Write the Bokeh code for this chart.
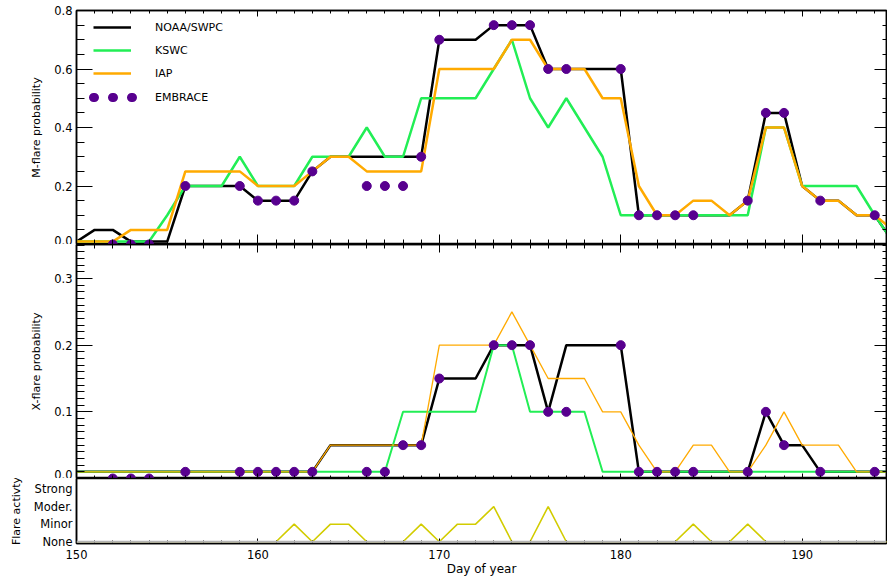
from bokeh.plotting import figure
from bokeh.models import (Range1d, LinearAxis, FixedTicker, Legend, LegendItem,
                          Span, PrintfTickFormatter)
from bokeh.layouts import column
from bokeh.embed import file_html
from bokeh.resources import INLINE

# ---------------- data ----------------
days = list(range(150, 196))

noaa_m = [0.01, 0.05, 0.05, 0.01, 0.01, 0.01, 0.2, 0.2, 0.2, 0.2,
          0.15, 0.15, 0.15, 0.25, 0.3, 0.3, 0.3, 0.3, 0.3, 0.3,
          0.7, 0.7, 0.7, 0.75, 0.75, 0.75, 0.6, 0.6, 0.6, 0.6,
          0.6, 0.1, 0.1, 0.1, 0.1, 0.1, 0.1, 0.15, 0.45, 0.45,
          0.2, 0.15, 0.15, 0.1, 0.1, 0.01]
kswc_m = [0.01, 0.01, 0.01, 0.01, 0.01, 0.1, 0.2, 0.2, 0.2, 0.3,
          0.2, 0.2, 0.2, 0.3, 0.3, 0.3, 0.4, 0.3, 0.3, 0.5,
          0.5, 0.5, 0.5, 0.6, 0.7, 0.5, 0.4, 0.5, 0.4, 0.3,
          0.1, 0.1, 0.1, 0.1, 0.1, 0.1, 0.1, 0.1, 0.4, 0.4,
          0.2, 0.2, 0.2, 0.2, 0.1, 0.01]
iap_m = [0.01, 0.01, 0.01, 0.05, 0.05, 0.05, 0.25, 0.25, 0.25, 0.25,
         0.2, 0.2, 0.2, 0.25, 0.3, 0.3, 0.25, 0.25, 0.25, 0.25,
         0.6, 0.6, 0.6, 0.6, 0.7, 0.7, 0.6, 0.6, 0.6, 0.5,
         0.5, 0.2, 0.1, 0.1, 0.15, 0.15, 0.1, 0.15, 0.4, 0.4,
         0.2, 0.15, 0.15, 0.1, 0.1, 0.05]

noaa_x = [0.01] * 14 + [0.05] * 6 + [0.15, 0.15, 0.15, 0.2, 0.2, 0.2, 0.1,
          0.2, 0.2, 0.2, 0.2] + [0.01] * 7 + [0.1, 0.05, 0.05] + [0.01] * 5
kswc_x = [0.01] * 18 + [0.1] * 5 + [0.2, 0.2] + [0.1] * 4 + [0.01] * 17
iap_x = [0.01] * 14 + [0.05] * 6 + [0.2, 0.2, 0.2, 0.2, 0.25, 0.2, 0.15, 0.15,
         0.15, 0.1, 0.1, 0.05, 0.01, 0.01, 0.05, 0.05, 0.01, 0.01, 0.05, 0.1,
         0.05, 0.05, 0.05, 0.01, 0.01, 0.01]

emb_days = [152, 153, 154, 156, 159, 160, 161, 162, 163, 166, 167, 168, 169, 170,
            173, 174, 175, 176, 177, 180, 181, 182, 183, 184, 187, 188, 189, 191, 194]
emb_m = [0, 0, 0, 0.2, 0.2, 0.15, 0.15, 0.15, 0.25, 0.2, 0.2, 0.2, 0.3, 0.7,
         0.75, 0.75, 0.75, 0.6, 0.6, 0.6, 0.1, 0.1, 0.1, 0.1, 0.15, 0.45, 0.45, 0.15, 0.1]
emb_x = [0, 0, 0, 0.01, 0.01, 0.01, 0.01, 0.01, 0.01, 0.01, 0.01, 0.05, 0.05, 0.15,
         0.2, 0.2, 0.2, 0.1, 0.1, 0.2, 0.01, 0.01, 0.01, 0.01, 0.01, 0.1, 0.05, 0.01, 0.01]

activity = [0] * 12 + [1, 0, 1, 1, 0, 0, 0, 1, 0, 1, 1, 2, 0, 0, 2] + [0] * 7 + \
           [1, 0, 0, 1] + [0] * 8
activity_levels = [0, 1, 2, 3]
activity_labels = ["None", "Minor", "Moder.", "Strong"]

m_ticks = [0.0, 0.2, 0.4, 0.6, 0.8]
x_prob_ticks = [0.0, 0.1, 0.2, 0.3]
day_ticks = [150, 160, 170, 180, 190]

# ---------------- style ----------------
FONT = "DejaVu Sans"
BLACK = "#000000"
GREEN = "#22ee55"
ORANGE = "#ffaa00"
PURPLE = "#58008f"
YELLOW = "#d2cc00"
W = 887

x_range = Range1d(150, 194.65)
day_minor = list(range(150, 196))


def style_axis(ax, major_in, minor_in, labels=False):
    ax.major_tick_in = major_in
    ax.major_tick_out = 0
    ax.minor_tick_in = minor_in
    ax.minor_tick_out = 0
    ax.axis_line_color = "black"
    ax.axis_line_width = 1.5
    ax.major_tick_line_color = "black"
    ax.minor_tick_line_color = "black"
    ax.major_tick_line_width = 1
    ax.minor_tick_line_width = 1
    if labels:
        ax.major_label_text_font = FONT
        ax.major_label_text_font_size = "11.5px"
        ax.major_label_text_color = "black"
        ax.major_label_standoff = 4
        ax.axis_label_text_font = FONT
        ax.axis_label_text_font_style = "normal"
        ax.axis_label_text_font_size = "11px"
        ax.axis_label_text_color = "black"
        ax.axis_label_standoff = 8
    else:
        ticks = ax.ticker.ticks
        ax.major_label_overrides = {t: "" for t in ticks}
        ax.major_label_text_font_size = "0px"
        ax.major_label_standoff = 0


def make_fig(height, y_range, top, bottom):
    p = figure(width=W, height=height, x_range=x_range, y_range=y_range,
               output_backend="svg", toolbar_location=None,
               min_border_left=76, min_border_right=1,
               min_border_top=top, min_border_bottom=bottom)
    p.grid.visible = False
    p.outline_line_color = "black"
    p.outline_line_width = 1.5
    p.background_fill_color = "white"
    p.border_fill_color = "white"
    return p


def x_ticker():
    return FixedTicker(ticks=day_ticks, minor_ticks=day_minor)


def legend_style(**kw):
    base = dict(padding=0, margin=0, spacing=3, glyph_height=20, label_height=20,
                background_fill_alpha=0, border_line_alpha=0, label_text_font=FONT,
                label_text_font_size="11px", label_text_color="black")
    base.update(kw)
    return base


# ---------------- top panel: M-flare ----------------
p1 = make_fig(244, Range1d(0, 0.8), 10, 0)
m_minor = [round(0.05 * i, 2) for i in range(17)]
yl = p1.yaxis[0]
yl.ticker = FixedTicker(ticks=m_ticks, minor_ticks=m_minor)
yl.formatter = PrintfTickFormatter(format="%.1f")
yl.axis_label = "M-flare probability"
style_axis(yl, 16, 8, labels=True)
yr = LinearAxis(ticker=FixedTicker(ticks=m_ticks, minor_ticks=m_minor))
style_axis(yr, 12, 4)
p1.add_layout(yr, "right")
xb = p1.xaxis[0]
xb.ticker = x_ticker()
style_axis(xb, 10, 5)
xa = LinearAxis(ticker=x_ticker())
style_axis(xa, 6, 3)
p1.add_layout(xa, "above")

r_noaa = p1.line(days, noaa_m, line_color=BLACK, line_width=2.5)
r_kswc = p1.line(days, kswc_m, line_color=GREEN, line_width=2.5)
r_iap = p1.line(days, iap_m, line_color=ORANGE, line_width=2.5)
p1.scatter(emb_days, emb_m, size=9, fill_color=PURPLE, line_color=PURPLE)
# legend-only line (kept outside the visible x range): round-capped short dashes -> dots
r_emb = p1.line(x=[100, 101], y=[0.5, 0.5], line_color=PURPLE, line_width=9,
                line_dash="1 18", line_dash_offset=14, line_cap="round")

legend_lines = Legend(items=[LegendItem(label="NOAA/SWPC", renderers=[r_noaa]),
                             LegendItem(label="KSWC", renderers=[r_kswc]),
                             LegendItem(label="IAP", renderers=[r_iap])],
                      location=(17, 161),
                      **legend_style(glyph_width=38, label_standoff=24))
legend_dots = Legend(items=[LegendItem(label="EMBRACE", renderers=[r_emb])],
                     location=(12, 137),
                     **legend_style(glyph_width=50, label_standoff=17))
p1.add_layout(legend_lines)
p1.add_layout(legend_dots)

# ---------------- middle panel: X-flare ----------------
p2 = make_fig(234, Range1d(0, 0.351), 0, 0)
x_minor_y = [round(0.01 * i, 2) for i in range(36)]
yl2 = p2.yaxis[0]
yl2.ticker = FixedTicker(ticks=x_prob_ticks, minor_ticks=x_minor_y)
yl2.formatter = PrintfTickFormatter(format="%.1f")
yl2.axis_label = "X-flare probability"
style_axis(yl2, 16, 8, labels=True)
yr2 = LinearAxis(ticker=FixedTicker(ticks=x_prob_ticks, minor_ticks=x_minor_y))
style_axis(yr2, 12, 4)
p2.add_layout(yr2, "right")
xb2 = p2.xaxis[0]
xb2.ticker = x_ticker()
style_axis(xb2, 5, 3)
xa2 = LinearAxis(ticker=x_ticker())
style_axis(xa2, 8, 4)
p2.add_layout(xa2, "above")

p2.line(days, noaa_x, line_color=BLACK, line_width=2.5)
p2.line(days, kswc_x, line_color=GREEN, line_width=2)
p2.line(days, iap_x, line_color=ORANGE, line_width=1.3)
p2.scatter(emb_days, emb_x, size=9, fill_color=PURPLE, line_color=PURPLE)

# ---------------- bottom panel: flare activity ----------------
p3 = make_fig(100, Range1d(-0.1, 3.6), 0, 0)
yl3 = p3.yaxis[0]
yl3.ticker = FixedTicker(ticks=activity_levels)
yl3.major_label_overrides = {lv: lb for lv, lb in zip(activity_levels, activity_labels)}
yl3.axis_label = "Flare activty"
style_axis(yl3, 0, 0, labels=True)
xb3 = p3.xaxis[0]
xb3.ticker = x_ticker()
xb3.axis_label = "Day of year"
style_axis(xb3, 5, 3, labels=True)
xb3.major_label_standoff = 6
xb3.axis_label_standoff = 0
xb3.axis_label_text_font_size = "12px"

p3.add_layout(Span(location=0, dimension="width", line_color="#b4b4b4", line_width=2))
p3.line(days, activity, line_color=YELLOW, line_width=1.6)

layout = column(p1, p2, p3, spacing=0)
open("out.html", "w").write(file_html(layout, INLINE))
